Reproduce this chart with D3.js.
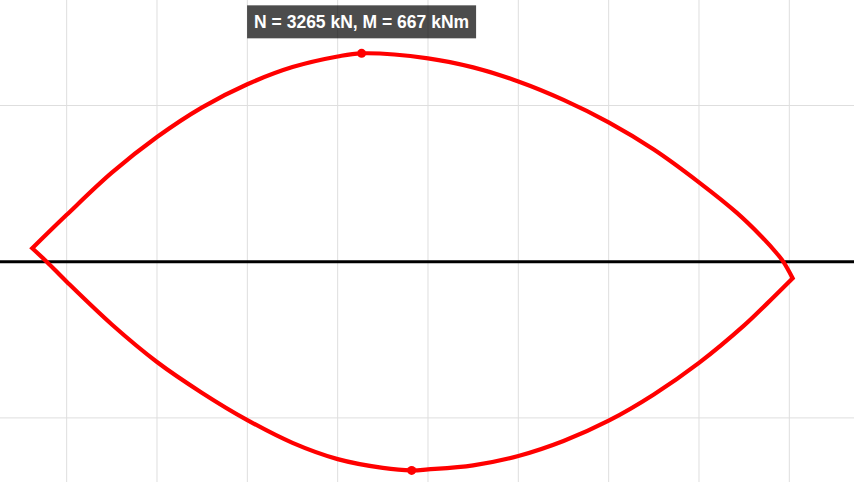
<!DOCTYPE html>
<html>
<head>
<meta charset="utf-8">
<script src="https://cdn.jsdelivr.net/npm/d3@7"></script>
<style>
  html, body { margin: 0; padding: 0; background: #fff; }
  svg { display: block; }
</style>
</head>
<body>
<div id="chart"></div>
<script>
const width = 854
const height = 482

// upper branch of the N-M interaction curve (N in kN, M in kNm), left tip -> right tip
const upperN = [-381, 0, 500, 1000, 1500, 2000, 2500, 3000, 3265, 4000, 4500, 5000, 5500, 6000, 6500, 7000, 7417, 7694, 7860, 7933, 8037]
const upperM = [43, 150, 285, 399, 494, 568, 623, 657, 667, 651, 622, 577, 518, 446, 359, 254, 157, 80, 27, 0, -53]

// lower branch, also left tip -> right tip
const lowerN = [-381, -221, 0, 500, 1000, 1500, 2000, 2500, 3000, 3500, 3819, 4000, 4500, 5000, 5500, 6000, 6500, 7000, 7500, 7750, 8037]
const lowerM = [43, 0, -64, -201, -321, -420, -507, -580, -632, -660, -668, -665, -652, -622, -574, -509, -425, -324, -204, -135, -53]

// gridline values
const nTicks = [0, 1000, 2000, 3000, 4000, 5000, 6000, 7000, 8000]
const mTicks = [-500, 500]

// highlighted points
const maxPoint = {N: 3265, M: 667}
const minPoint = {N: 3819, M: -668}

const x = d3.scaleLinear().domain([-738, 8716]).range([0, width])
const y = d3.scaleLinear().domain([837.7, -705.2]).range([0, height])

const svg = d3.select("#chart")
  .append("svg")
  .attr("width", width)
  .attr("height", height)
  .attr("viewBox", [0, 0, width, height])

// grid
svg.append("g")
  .selectAll("line")
  .data(nTicks)
  .join("line")
    .attr("x1", d => x(d)).attr("x2", d => x(d))
    .attr("y1", 0).attr("y2", height)
    .attr("stroke", "#dedede")
    .attr("stroke-width", 1)

svg.append("g")
  .selectAll("line")
  .data(mTicks)
  .join("line")
    .attr("x1", 0).attr("x2", width)
    .attr("y1", d => y(d)).attr("y2", d => y(d))
    .attr("stroke", "#dedede")
    .attr("stroke-width", 1)

// M = 0 axis
svg.append("line")
  .attr("x1", 0).attr("x2", width)
  .attr("y1", y(0)).attr("y2", y(0))
  .attr("stroke", "#000")
  .attr("stroke-width", 3)

const line = d3.line()
  .x(d => x(d[0]))
  .y(d => y(d[1]))
  .curve(d3.curveCatmullRom.alpha(0.5))

const upper = d3.zip(upperN, upperM)
const lower = d3.zip(lowerN, lowerM).reverse()

// one closed outline so the tips get sharp joins
const outline = line(upper) + line(lower).replace(/^M/, "L") + "Z"

svg.append("path")
  .attr("d", outline)
  .attr("fill", "none")
  .attr("stroke", "#ff0000")
  .attr("stroke-width", 4.2)
  .attr("stroke-linejoin", "miter")

svg.selectAll("circle.mark")
  .data([maxPoint, minPoint])
  .join("circle")
    .attr("class", "mark")
    .attr("cx", d => x(d.N))
    .attr("cy", d => y(d.M))
    .attr("r", 4.5)
    .attr("fill", "#ff0000")

// label over the max point
const tip = svg.append("g")
const px = x(maxPoint.N)
const py = y(maxPoint.M)

const label = tip.append("text")
  .attr("x", px)
  .attr("y", py - 25)
  .attr("text-anchor", "middle")
  .attr("font-family", "'Liberation Sans', Arial, sans-serif")
  .attr("font-weight", "bold")
  .attr("font-size", 17.5)
  .attr("fill", "#fff")
  .text(`N = ${maxPoint.N} kN, M = ${maxPoint.M} kNm`)

const bb = label.node().getBBox()
tip.insert("rect", "text")
  .attr("x", bb.x - 7)
  .attr("y", py - 48)
  .attr("width", bb.width + 14)
  .attr("height", 33)
  .attr("fill", "rgba(0,0,0,0.7)")
</script>
</body>
</html>
